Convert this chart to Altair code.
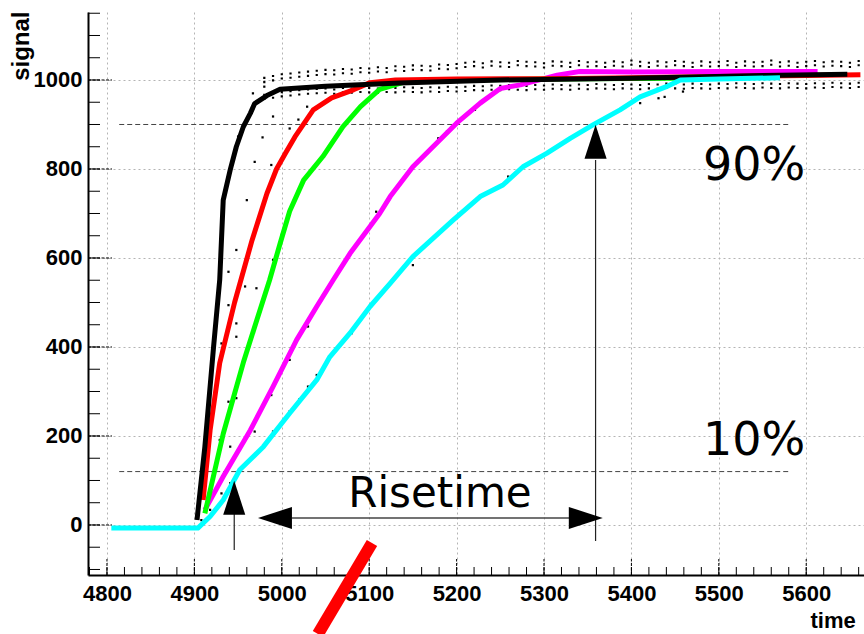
import altair as alt
import pandas as pd

# ---------------- data ----------------
black_x = [4903, 4912, 4922, 4929, 4933, 4941, 4948, 4956, 4964, 4969, 4983, 4998, 5050, 5135, 5250, 5400, 5550, 5647]
black_y = [11, 176, 401, 551, 730, 798, 850, 895, 925, 947, 965, 979, 986, 993, 1000, 1004, 1010, 1013]

red_x = [4910, 4918, 4929, 4946, 4966, 4983, 4994, 5005, 5015, 5036, 5057, 5082, 5101, 5130, 5200, 5300, 5400, 5500,
         5600, 5662]
red_y = [56, 213, 364, 500, 640, 745, 800, 838, 872, 933, 960, 978, 994, 1000, 1002, 1003, 1005, 1008,
         1010, 1012]

green_x = [4912, 4933, 4956, 4971, 4986, 4998, 5009, 5025, 5047, 5070, 5090, 5112, 5140, 5200, 5300, 5450]
green_y = [26, 205, 365, 458, 550, 632, 705, 775, 828, 895, 940, 979, 995, 1000, 1002, 1004]

magenta_x = [4912, 4933, 4964, 4990, 5017, 5040, 5059, 5078, 5112, 5124, 5150, 5200, 5227, 5250, 5273, 5315, 5341, 5400, 5500, 5613]
magenta_y = [34, 109, 213, 311, 416, 491, 551, 610, 700, 738, 805, 903, 948, 981, 989, 1011, 1019, 1018, 1019, 1019]

cyan_x = [4805, 4904, 4918, 4933, 4952, 4979, 5009, 5040, 5055, 5078, 5101, 5124, 5150, 5196, 5227, 5253, 5276, 5303,
          5330, 5356, 5387, 5410, 5440, 5456, 5500, 5570]
cyan_y = [-7, -7, 19, 56, 124, 176, 251, 326, 378, 431, 491, 543, 603, 685, 738, 764, 805, 835,
          869, 899, 933, 962, 985, 1000, 1002, 1005]

# scattered error-bar points around the rising edges
scatter_x = [4980, 4990, 5009, 5019, 5029, 4978, 4969, 4988, 4960, 4948, 4939, 5000, 5009, 4990, 4971, 4950, 4967, 5108,
             4939, 4948, 4948, 4931, 4939, 4948, 4929, 4941, 4969, 4988, 5009, 5030, 5039, 5049, 5040, 5030, 5020, 5009,
             4990, 5080, 4941, 4931, 4918, 4908, 4958, 5221, 5210, 5189, 5179, 5170, 5160, 5150, 5259, 5150, 5410,
             5431, 5438, 5459]
scatter_y = [985, 918, 891, 911, 940, 871, 816, 809, 730, 618, 569, 652, 697, 596, 532, 873, 970, 704,
             494, 453, 423, 408, 277, 285, 191, 176, 210, 292, 371, 446, 485, 517, 337, 311, 282, 255,
             210, 431, 94, 71, 34, 11, 536, 933, 921, 884, 869, 846, 824, 802, 783, 584, 948,
             959, 962, 974]

# error-bar ends along the plateau
band_x = [4980, 4990, 5000, 5010, 5020, 5030, 5040, 5050, 5060, 5070, 5080, 5090, 5100, 5110, 5120, 5130, 5140, 5150,
          5160, 5170, 5180, 5190, 5200, 5210, 5220, 5230, 5240, 5250, 5260, 5270, 5280, 5290, 5300, 5310, 5320, 5330,
          5340, 5350, 5360, 5370, 5380, 5390, 5400, 5410, 5420, 5430, 5440, 5450, 5460, 5470, 5480, 5490, 5500, 5510,
          5520, 5530, 5540, 5550, 5560, 5570, 5580, 5590, 5600, 5610, 5620, 5630, 5640, 5650, 5660]
band_hi = [1000, 1004, 1008, 1010, 1012, 1014,
           1016, 1018, 1017, 1020, 1019, 1022, 1021,
           1024, 1022, 1026, 1025, 1028, 1027, 1026, 1030, 1029, 1031,
           1034, 1036, 1033, 1037, 1035, 1034, 1038, 1036, 1035, 1033,
           1037, 1036, 1034, 1038, 1035, 1036, 1034, 1037, 1035, 1039,
           1036, 1034, 1037, 1035, 1038, 1036, 1034, 1037, 1035, 1036,
           1038, 1034, 1037, 1035, 1036, 1039, 1035, 1037, 1034, 1036,
           1038, 1035, 1037, 1036, 1034, 1038]
band_lo = [962, 965, 968, 970, 972, 974,
           975, 976, 974, 977, 976, 978, 977, 976, 978, 977, 979, 978, 977, 979, 978, 980, 979,
           980, 982, 981, 983, 982, 984, 983, 982, 984, 983,
           985, 984, 983, 985, 984, 986, 985, 984, 986, 985,
           984, 986, 985, 987, 986, 985, 987, 986, 985, 987,
           986, 988, 987, 986, 988, 987, 986, 988, 987, 986,
           988, 987, 989, 988, 987, 989]

# threshold lines (10% / 90%)
level_values = [900, 120]
level_x_start = [4814, 4814]
level_x_end = [5580, 5580]

# annotation texts
label_texts = ["90%", "10%", "Risetime"]
label_x = [5482, 5482, 5076]
label_y = [775, 157, 41]
label_size = [46, 46, 42]

# arrows
shaft_x = [4945.6, 5359.0]
shaft_y_from = [-56, -36]
shaft_y_to = [25, 820]
hshaft_x_from = [5011.5]
hshaft_x_to = [5329.5]
hshaft_y = [15.7]
head_x = [4945.6, 5359.0, 4992.2, 5347.8]
head_y = [61, 861, 15.7, 15.7]
head_angle = [0, 0, 270, 90]

# red stroke
slash_x = [5103.2]
slash_x2 = [5041.4]
slash_y = [-40.4]
slash_y2 = [-245.0]

# axes
x_major = [4800, 4900, 5000, 5100, 5200, 5300, 5400, 5500, 5600]
y_major = [0, 200, 400, 600, 800, 1000]
x_minor = list(range(4780, 5661, 20))
y_minor = list(range(-100, 1151, 50))

X_DOMAIN = [4778.3, 5666.1]
Y_DOMAIN = [-112.4, 1152.8]
W, H = 776, 563

xs = alt.Scale(domain=X_DOMAIN, nice=False, zero=False)
ys = alt.Scale(domain=Y_DOMAIN, nice=False, zero=False)

LBL = dict(labelFont="Liberation Sans", labelFontWeight="bold", labelFontSize=22, labelColor="black",
           titleFont="Liberation Sans", titleFontWeight="bold", titleColor="black",
           grid=True, gridColor="#b4b4b4", gridDash=[2, 3], gridWidth=1, ticks=False,
           domainColor="black", domainWidth=2, labelFlush=False, format="d")

x_axis = alt.Axis(values=x_major, labelPadding=8, title="time", titleX=722, titleY=52, titleFontSize=22,
                  titleAlign="left", titleBaseline="alphabetic", titleAngle=0, **LBL)
y_axis = alt.Axis(values=y_major, labelPadding=6, title="signal", titleX=-60, titleY=-1, titleFontSize=24,
                  titleAngle=270, titleAlign="right", titleBaseline="alphabetic", **LBL)


def X(field="x"):
    return alt.X(f"{field}:Q", scale=xs, axis=x_axis)


def Y(field="y"):
    return alt.Y(f"{field}:Q", scale=ys, axis=y_axis)


# ---------------- layers ----------------
levels = pd.DataFrame({"x": level_x_start, "x2": level_x_end, "y": level_values})
lvl = alt.Chart(levels).mark_rule(color="#444", strokeWidth=1, strokeDash=[5, 3]).encode(
    x=X(), x2="x2:Q", y=Y())

DOT_SHAPE = "M-0.35,-1H0.35V-0.35H-0.35Z M-0.35,0.35H0.35V1H-0.35Z"
band = pd.DataFrame({"x": band_x * 2, "y": band_hi + band_lo})
band_layer = alt.Chart(band).mark_point(shape=DOT_SHAPE, filled=True, size=40, color="black",
                                        opacity=1, strokeWidth=0).encode(x=X(), y=Y())

scat = pd.DataFrame({"x": scatter_x, "y": scatter_y})
scat_layer = alt.Chart(scat).mark_square(size=5, color="black", opacity=1).encode(x=X(), y=Y())


def curve(xv, yv, color):
    df = pd.DataFrame({"x": xv, "y": yv})
    return alt.Chart(df).mark_line(color=color, strokeWidth=5, strokeJoin="round").encode(x=X(), y=Y())


curves = [
    curve(magenta_x, magenta_y, "#ff00ff"),
    curve(green_x, green_y, "#00ff00"),
    curve(red_x, red_y, "#ff0000"),
    curve(black_x, black_y, "#000000"),
    curve(cyan_x, cyan_y, "#00ffff"),
]

vsh = alt.Chart(pd.DataFrame({"x": shaft_x, "y": shaft_y_from, "y2": shaft_y_to})).mark_rule(
    color="#222", strokeWidth=1.2).encode(x=X(), y=Y(), y2="y2:Q")
hsh = alt.Chart(pd.DataFrame({"x": hshaft_x_from, "x2": hshaft_x_to, "y": hshaft_y})).mark_rule(
    color="#444", strokeWidth=1.5).encode(x=X(), x2="x2:Q", y=Y())

ARROW = "M0,-1L0.65,1L-0.65,1Z"
heads = alt.Chart(pd.DataFrame({"x": head_x, "y": head_y, "a": head_angle})).mark_point(
    shape=ARROW, filled=True, size=1156, color="black", opacity=1, strokeWidth=0).encode(
    x=X(), y=Y(), angle=alt.Angle("a:Q", scale=None))

texts = alt.Chart(pd.DataFrame({"x": label_x, "y": label_y, "t": label_texts, "s": label_size})).mark_text(
    font="DejaVu Sans", align="left", baseline="alphabetic", color="black").encode(
    x=X(), y=Y(), text="t:N", size=alt.Size("s:Q", scale=None))

xt_minor = alt.Chart(pd.DataFrame({"x": x_minor})).mark_rule(color="black", strokeWidth=1).encode(
    x=X(), y=alt.value(H), y2=alt.value(H - 8))
xt_major = alt.Chart(pd.DataFrame({"x": x_major})).mark_rule(color="black", strokeWidth=1,
                                                              strokeDash=[3, 1.5]).encode(
    x=X(), y=alt.value(H), y2=alt.value(H - 16))
yt_minor = alt.Chart(pd.DataFrame({"y": y_minor})).mark_rule(color="black", strokeWidth=1).encode(
    y=Y(), x=alt.value(0), x2=alt.value(12))
yt_major = alt.Chart(pd.DataFrame({"y": y_major})).mark_rule(color="black", strokeWidth=1,
                                                              strokeDash=[3, 1.5]).encode(
    y=Y(), x=alt.value(0), x2=alt.value(24))

slash = alt.Chart(pd.DataFrame({"x": slash_x, "x2": slash_x2, "y": slash_y, "y2": slash_y2})).mark_rule(
    color="#ff0000", strokeWidth=12, strokeCap="butt").encode(x=X(), x2="x2:Q", y=Y(), y2="y2:Q")

chart = alt.layer(
    lvl, band_layer, scat_layer, *curves, vsh, hsh, heads, texts,
    xt_minor, xt_major, yt_minor, yt_major, slash
).properties(
    width=W, height=H,
    autosize=alt.AutoSizeParams(type="none"),
    padding={"left": 88, "top": 12, "right": 0, "bottom": 59},
    background="white",
).configure_view(stroke=None)

chart.save("out.html", embed_options={"renderer": "svg", "actions": False})
